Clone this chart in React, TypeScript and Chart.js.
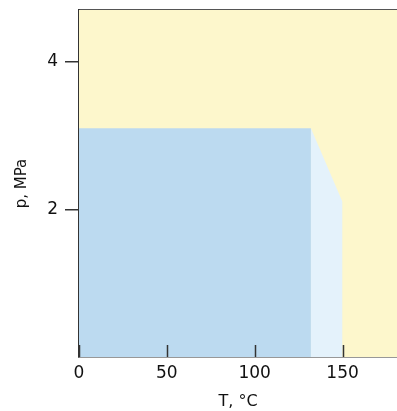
import React, { useEffect, useRef } from "react";
import { Chart, registerables } from "chart.js";

Chart.register(...registerables);

const X_MIN = 0;
const X_MAX = 181;
const Y_MIN = 0;
const Y_MAX = 4.7;

const xTicks = [0, 50, 100, 150];
const yTicks = [2, 4];

// background (gas/vapour) region
const bgT = [0, 181];
const bgP = [4.7, 4.7];
// blue region
const blueT = [0, 132];
const blueP = [3.1, 3.1];
// light-blue transition region
const lightT = [132, 150];
const lightP = [3.1, 2.1];

const xTitle = "T, °C";
const yTitle = "p, MPa";

const FONT = "'DejaVu Sans', sans-serif";

const pts = (xs: number[], ys: number[]) => xs.map((x, i) => ({ x, y: ys[i] }));

const inwardTicks = {
  id: "inwardTicks",
  afterDatasetsDraw(chart: any) {
    const ctx = chart.ctx;
    const xs = chart.scales.x;
    const area = chart.chartArea;
    ctx.save();
    ctx.strokeStyle = "#333";
    ctx.lineWidth = 1.5;
    xTicks.forEach((v) => {
      const px = Math.round(xs.getPixelForValue(v)) + 0.5;
      ctx.beginPath();
      ctx.moveTo(px, area.bottom);
      ctx.lineTo(px, area.bottom - 12);
      ctx.stroke();
    });
    ctx.restore();
  },
};

export default function App() {
  const ref = useRef<HTMLCanvasElement | null>(null);
  useEffect(() => {
    document.body.style.margin = "0";
    if (!ref.current) return;
    const chart = new Chart(ref.current, {
      type: "line",
      data: {
        datasets: [
          {
            data: pts(bgT, bgP),
            backgroundColor: "rgb(253,247,204)",
            borderWidth: 0,
            pointRadius: 0,
            fill: "origin",
            order: 3,
          },
          {
            data: pts(blueT, blueP),
            backgroundColor: "rgb(188,218,240)",
            borderWidth: 0,
            pointRadius: 0,
            fill: "origin",
            order: 2,
          },
          {
            data: pts(lightT, lightP),
            backgroundColor: "rgb(228,242,251)",
            borderWidth: 0,
            pointRadius: 0,
            fill: "origin",
            order: 1,
          },
        ],
      },
      options: {
        animation: false,
        responsive: false,
        maintainAspectRatio: false,
        layout: { padding: { top: 10, right: 0, bottom: 0, left: 0 } },
        plugins: { legend: { display: false }, tooltip: { enabled: false } },
        scales: {
          x: {
            type: "linear",
            min: X_MIN,
            max: X_MAX,
            afterBuildTicks: (s: any) => {
              s.ticks = xTicks.map((v) => ({ value: v }));
            },
            afterFit: (s: any) => {
              s.height = 54;
              s.paddingRight = 0;
            },
            grid: { display: false, drawTicks: false },
            border: { display: true, color: "#333", width: 1.5 },
            ticks: {
              padding: 6,
              color: "#111",
              font: { family: FONT, size: 17 },
              callback: (v: any) => String(v),
            },
            title: {
              display: true,
              text: xTitle,
              color: "#111",
              font: { family: FONT, size: 16 },
              padding: { top: 0, bottom: 0 },
            },
          },
          x2: {
            type: "linear",
            position: "top",
            min: X_MIN,
            max: X_MAX,
            afterFit: (s: any) => {
              s.height = 0;
            },
            grid: { display: false, drawTicks: false },
            ticks: { display: false },
            border: { display: true, color: "#555", width: 2 },
          },
          y: {
            type: "linear",
            min: Y_MIN,
            max: Y_MAX,
            afterBuildTicks: (s: any) => {
              s.ticks = yTicks.map((v) => ({ value: v }));
            },
            afterFit: (s: any) => {
              s.width = 79;
              s.paddingTop = 0;
              s.paddingBottom = 0;
            },
            grid: { drawOnChartArea: false, drawTicks: true, tickLength: 14, color: "#333", lineWidth: 1.5 },
            border: { display: true, color: "#333", width: 1.5 },
            ticks: {
              padding: 7,
              color: "#111",
              font: { family: FONT, size: 17 },
              callback: (v: any) => String(v),
            },
            title: {
              display: true,
              text: yTitle,
              color: "#111",
              font: { family: FONT, size: 15 },
              padding: { top: 13, bottom: 0 },
            },
          },
        },
      },
      plugins: [inwardTicks],
    });
    return () => chart.destroy();
  }, []);
  return (
    <div style={{ width: 397, height: 411, position: "relative" }}>
      <canvas ref={ref} width={397} height={411} style={{ display: "block" }} />
    </div>
  );
}
